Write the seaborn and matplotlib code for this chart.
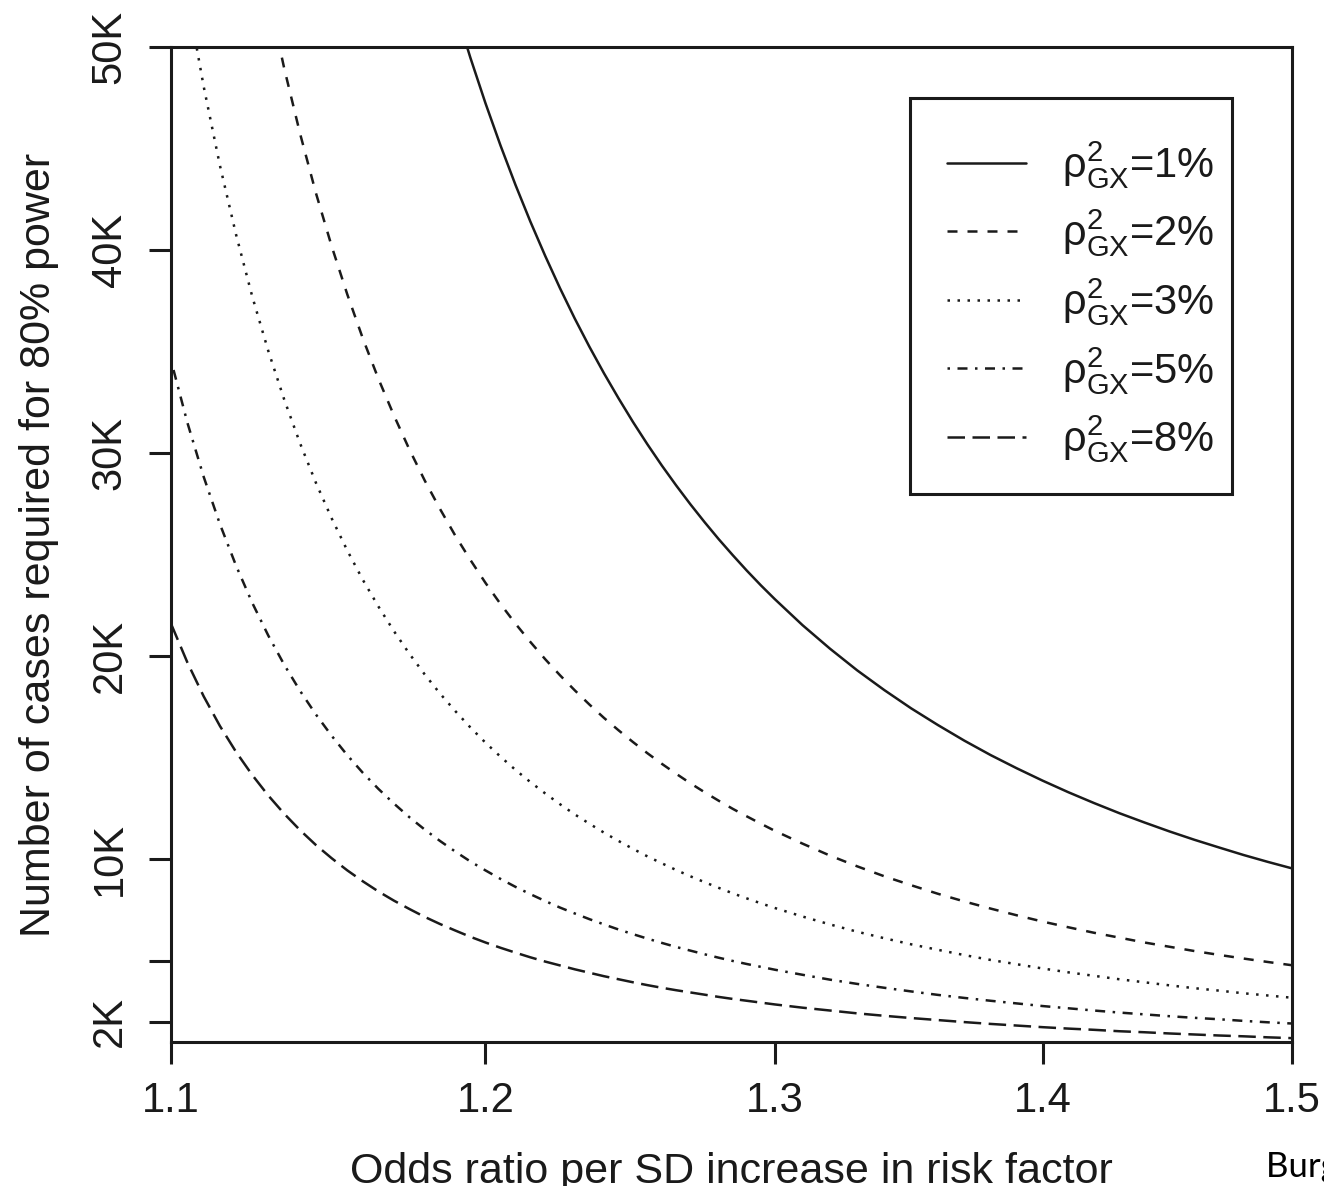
import matplotlib
matplotlib.use("Agg")
import matplotlib.pyplot as plt
from matplotlib.patches import Rectangle
from matplotlib.ticker import NullLocator
import pandas as pd
import seaborn as sns

# Odds ratio per SD increase in the risk factor
odds_ratio = [1.100, 1.105, 1.110, 1.115, 1.120, 1.125, 1.130, 1.135, 1.140, 1.145,
              1.150, 1.155, 1.160, 1.165, 1.170, 1.175, 1.180, 1.185, 1.190, 1.195,
              1.200, 1.205, 1.210, 1.215, 1.220, 1.225, 1.230, 1.235, 1.240, 1.245,
              1.250, 1.255, 1.260, 1.265, 1.270, 1.275, 1.280, 1.285, 1.290, 1.295,
              1.300, 1.31, 1.32, 1.33, 1.34, 1.35, 1.36, 1.37, 1.38, 1.39,
              1.40, 1.41, 1.42, 1.43, 1.44, 1.45, 1.46, 1.47, 1.48, 1.49, 1.50]

# Cases (thousands) needed for 80% power, by variance in X explained by G
cases_rho1 = [172.8, 157.5, 144.2, 132.5, 122.2, 113.2, 105.1, 97.9, 91.5, 85.6,
              80.4, 75.6, 71.3, 67.3, 63.7, 60.4, 57.3, 54.5, 51.89, 49.47,
              47.23, 45.15, 43.21, 41.40, 39.71, 38.12, 36.63, 35.24, 33.93, 32.70,
              31.53, 30.43, 29.39, 28.41, 27.48, 26.60, 25.76, 24.97, 24.21, 23.49,
              22.81, 21.53, 20.37, 19.30, 18.33, 17.43, 16.61, 15.84, 15.13, 14.48,
              13.87, 13.30, 12.77, 12.27, 11.81, 11.37, 10.96, 10.58, 10.21, 9.87, 9.55]
cases_rho2 = [86.41, 78.74, 72.08, 66.25, 61.12, 56.58, 52.56, 48.95, 45.73, 42.81,
              40.19, 37.81, 35.63, 33.65, 31.85, 30.18, 28.65, 27.25, 25.94, 24.74,
              23.61, 22.57, 21.60, 20.70, 19.85, 19.06, 18.32, 17.62, 16.96, 16.35,
              15.77, 15.22, 14.70, 14.21, 13.74, 13.30, 12.88, 12.48, 12.11, 11.75,
              11.40, 10.77, 10.18, 9.65, 9.16, 8.72, 8.30, 7.92, 7.57, 7.24,
              6.93, 6.65, 6.38, 6.14, 5.90, 5.69, 5.48, 5.29, 5.11, 4.94, 4.78]
cases_rho3 = [57.61, 52.50, 48.05, 44.16, 40.75, 37.72, 35.04, 32.64, 30.48, 28.54,
              26.79, 25.20, 23.75, 22.44, 21.23, 20.12, 19.10, 18.16, 17.30, 16.49,
              15.74, 15.05, 14.40, 13.80, 13.24, 12.71, 12.21, 11.75, 11.31, 10.90,
              10.51, 10.14, 9.80, 9.47, 9.16, 8.87, 8.59, 8.32, 8.07, 7.83,
              7.60, 7.18, 6.79, 6.43, 6.11, 5.81, 5.54, 5.28, 5.04, 4.83,
              4.62, 4.43, 4.26, 4.09, 3.94, 3.79, 3.65, 3.53, 3.40, 3.29, 3.18]
cases_rho5 = [34.57, 31.50, 28.83, 26.50, 24.45, 22.63, 21.02, 19.58, 18.29, 17.13,
              16.08, 15.12, 14.25, 13.46, 12.74, 12.07, 11.46, 10.90, 10.38, 9.89,
              9.45, 9.03, 8.64, 8.28, 7.94, 7.62, 7.33, 7.05, 6.79, 6.54,
              6.31, 6.09, 5.88, 5.68, 5.50, 5.32, 5.15, 4.99, 4.84, 4.70,
              4.56, 4.31, 4.07, 3.86, 3.67, 3.49, 3.32, 3.17, 3.03, 2.90,
              2.77, 2.66, 2.55, 2.45, 2.36, 2.27, 2.19, 2.12, 2.04, 1.97, 1.91]
cases_rho8 = [21.60, 19.69, 18.02, 16.56, 15.28, 14.15, 13.14, 12.24, 11.43, 10.70,
              10.05, 9.45, 8.91, 8.41, 7.96, 7.55, 7.16, 6.81, 6.49, 6.18,
              5.90, 5.64, 5.40, 5.17, 4.96, 4.77, 4.58, 4.41, 4.24, 4.09,
              3.94, 3.80, 3.67, 3.55, 3.44, 3.33, 3.22, 3.12, 3.03, 2.94,
              2.85, 2.69, 2.55, 2.41, 2.29, 2.18, 2.08, 1.98, 1.89, 1.81,
              1.73, 1.66, 1.60, 1.53, 1.48, 1.42, 1.37, 1.32, 1.28, 1.23, 1.19]

series_names = ["1%", "2%", "3%", "5%", "8%"]
series_values = [cases_rho1, cases_rho2, cases_rho3, cases_rho5, cases_rho8]

x_ticks = [1.1, 1.2, 1.3, 1.4, 1.5]
x_tick_labels = ["1.1", "1.2", "1.3", "1.4", "1.5"]
y_ticks = [2, 5, 10, 20, 30, 40, 50]
y_tick_labels = ["2K", "", "10K", "20K", "30K", "40K", "50K"]

sns.set_style("ticks")
plt.rcParams["font.family"] = ["Liberation Sans", "DejaVu Sans"]
plt.rcParams["mathtext.fontset"] = "custom"
plt.rcParams["mathtext.rm"] = "Liberation Sans"
plt.rcParams["mathtext.default"] = "regular"

ink = "#1a1a1a"
line_styles = ["-", (0, (4, 4)), (0, (1, 3)), (0, (1, 3, 4, 3)), (0, (7, 3))]

df = pd.DataFrame({
    "odds_ratio": odds_ratio * len(series_names),
    "cases": sum(series_values, []),
    "rho2": [n for n in series_names for _ in odds_ratio],
})

fig = plt.figure(figsize=(13.24, 11.86), dpi=100)
ax = fig.add_axes([0.12915, 0.12142, 0.84668, 0.83895])

for name, ls in zip(series_names, line_styles):
    sub = df[df["rho2"] == name]
    sns.lineplot(data=sub, x="odds_ratio", y="cases", ax=ax, color=ink,
                 lw=1.8, linestyle=ls, legend=False)

ax.set_xscale("log")
ax.set_xlim(1.1, 1.5)
ax.set_ylim(1.0, 50)
ax.set_xticks(x_ticks)
ax.set_xticklabels(x_tick_labels)
ax.xaxis.set_minor_locator(NullLocator())
ax.set_yticks(y_ticks)
ax.set_yticklabels(y_tick_labels, rotation=90, va="center")

for sp in ax.spines.values():
    sp.set_visible(True)
    sp.set_linewidth(2.2)
    sp.set_color(ink)

ax.tick_params(axis="both", direction="out", length=15.8, width=2.2,
               color=ink, labelcolor=ink, labelsize=30)
ax.tick_params(axis="x", pad=12.5)
ax.tick_params(axis="y", pad=14)

ax.set_xlabel("Odds ratio per SD increase in risk factor", fontsize=31,
              color=ink, labelpad=22)
ax.set_ylabel("Number of cases required for 80% power", fontsize=31,
              color=ink, labelpad=22)

labels = [r"$ρ^{2}_{GX}$=" + n for n in series_names]
leg = ax.legend(ax.lines[:len(series_names)], labels, loc="center left",
                bbox_to_anchor=(0.6922, 0.7437), frameon=False, fontsize=30,
                handlelength=1.9, handletextpad=0.86, labelspacing=0.4,
                borderpad=0, borderaxespad=0)
for t in leg.get_texts():
    t.set_color(ink)

ax.add_patch(Rectangle((0.6592, 0.5508), 0.2873, 0.3980, transform=ax.transAxes,
                       fill=False, lw=2.2, ec=ink, zorder=5, clip_on=False))

fig.text(1266 / 1324, 9 / 1186, "Burgess et al.", fontfamily=["Lato", "DejaVu Sans"],
         fontsize=25, ha="left", va="baseline", color="black")

fig.savefig("out.png", dpi=100)
